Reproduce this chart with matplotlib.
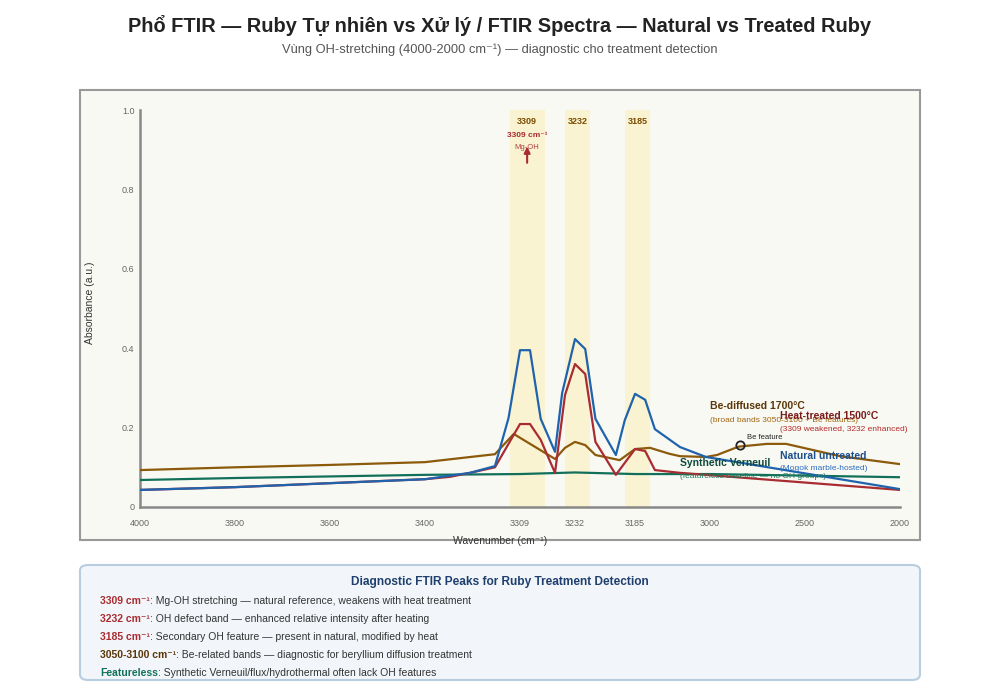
import numpy as np
import matplotlib
matplotlib.use('Agg')
import matplotlib.pyplot as plt
from matplotlib.patches import Rectangle, FancyBboxPatch

plt.rcParams['font.family'] = ['Liberation Sans', 'DejaVu Sans']

# wavenumber axis: break points (cm-1) and where they sit along the axis
axis_wn = [4000, 3800, 3600, 3400, 3309, 3232, 3185, 3000, 2500, 2000]
axis_pos = [0, 1, 2, 3, 4, 4.579, 5.211, 6, 7, 8]
tick_labels = [str(w) for w in axis_wn]

# spectra (absorbance, a.u.)
natural_wn = [4000, 3800, 3600, 3400, 3357, 3333, 3320, 3309, 3295, 3280, 3260, 3250,
              3232, 3224, 3216, 3200, 3193, 3185, 3160, 3136, 3074, 3010, 2000]
natural_abs = [0.043, 0.05, 0.06, 0.07, 0.086, 0.103, 0.224, 0.395, 0.395, 0.222, 0.139, 0.287,
               0.423, 0.398, 0.222, 0.131, 0.219, 0.285, 0.27, 0.196, 0.151, 0.126, 0.045]

heat_wn = [4000, 3800, 3600, 3400, 3376, 3357, 3333, 3309, 3295, 3280, 3260, 3246,
           3232, 3224, 3216, 3200, 3185, 3160, 3136, 3074, 2000]
heat_abs = [0.043, 0.05, 0.06, 0.07, 0.076, 0.086, 0.10, 0.209, 0.209, 0.169, 0.086, 0.282,
            0.36, 0.335, 0.164, 0.081, 0.146, 0.141, 0.093, 0.086, 0.043]

be_wn = [4000, 3800, 3600, 3400, 3333, 3315, 3260, 3246, 3232, 3224, 3216, 3197, 3185,
         3148, 3100, 3074, 3010, 2963, 2850, 2700, 2600, 2316, 2000]
be_abs = [0.093, 0.10, 0.106, 0.113, 0.133, 0.184, 0.121, 0.149, 0.164, 0.156, 0.131, 0.118, 0.146,
          0.149, 0.134, 0.128, 0.126, 0.131, 0.152, 0.159, 0.159, 0.128, 0.108]

syn_wn = [4000, 3800, 3600, 3400, 3309, 3232, 3185, 3000, 2500, 2000]
syn_abs = [0.068, 0.073, 0.077, 0.081, 0.083, 0.087, 0.083, 0.083, 0.079, 0.075]

be_feature = (2842, 0.157)

# diagnostic bands: label, low, high (cm-1)
bands = [('3309', 3274, 3319), ('3232', 3220, 3246), ('3185', 3148, 3193)]

notes = [
    ('3309 cm⁻¹', '#a82c30', ': Mg-OH stretching — natural reference, weakens with heat treatment'),
    ('3232 cm⁻¹', '#a82c30', ': OH defect band — enhanced relative intensity after heating'),
    ('3185 cm⁻¹', '#a82c30', ': Secondary OH feature — present in natural, modified by heat'),
    ('3050-3100 cm⁻¹', '#5a3608', ': Be-related bands — diagnostic for beryllium diffusion treatment'),
    ('Featureless', '#12705a', ': Synthetic Verneuil/flux/hydrothermal often lack OH features'),
]

c_nat = '#1f63ad'
c_heat = '#a82c30'
c_be = '#8b5a0b'
c_syn = '#12705a'


# piecewise axis mapping, increasing with wavenumber (axis gets inverted by xlim)
def fwd(w):
    return -np.interp(-np.asarray(w, dtype=float), -np.array(axis_wn), axis_pos)


def inv(q):
    return -np.interp(-np.asarray(q, dtype=float), axis_pos, -np.array(axis_wn))


fig = plt.figure(figsize=(10, 7), dpi=100)
fig.patch.set_facecolor('white')

# chart panel
fig.patches.append(Rectangle((0.08, 1 - 540 / 700), 0.84, 450 / 700, transform=fig.transFigure,
                             facecolor='#f9f9f4', edgecolor='#999999', lw=1.5, zorder=-1))

ax = fig.add_axes([0.14, 1 - 507 / 700, 0.76, 397 / 700])
ax.set_facecolor('none')
ax.set_xscale('function', functions=(fwd, inv))
ax.set_xlim(4000, 2000)
ax.set_ylim(0, 1.0)

for lbl, lo, hi in bands:
    ax.axvspan(lo, hi, color='#faf3d2', zorder=0, lw=0)
    xc = inv((fwd(lo) + fwd(hi)) / 2)
    ax.text(xc, 0.97, lbl, ha='center', va='center', fontsize=6.5, fontweight='bold', color='#7a4a00')

ax.plot(be_wn, be_abs, color=c_be, lw=1.6, zorder=3)
ax.plot(syn_wn, syn_abs, color=c_syn, lw=1.6, zorder=3)
ax.plot(heat_wn, heat_abs, color=c_heat, lw=1.6, zorder=3)
ax.plot(natural_wn, natural_abs, color=c_nat, lw=1.6, zorder=3)

ax.plot(*be_feature, 'o', ms=6, mfc='none', mec='#222222', mew=1.3, zorder=5)
ax.text(2805, 0.176, 'Be feature', fontsize=5.5, color='#222222', va='center')

# peak arrow for 3309
ax.annotate('', xy=(3299, 0.915), xytext=(3299, 0.86),
            arrowprops=dict(arrowstyle='-|>', color=c_heat, lw=1.5, mutation_scale=9))
ax.text(3299, 0.935, '3309 cm⁻¹', ha='center', va='center', fontsize=6, fontweight='bold', color='#a82c30')
ax.text(3299, 0.905, 'Mg-OH', ha='center', va='center', fontsize=5.5, color='#b04040')

# series labels
ax.text(3000, 0.254, 'Be-diffused 1700°C', fontsize=7.5, fontweight='bold', color='#5a3608', va='center')
ax.text(3000, 0.219, '(broad bands 3050-3100 + Be features)', fontsize=6, color='#a0650f', va='center')
ax.text(2632, 0.229, 'Heat-treated 1500°C', fontsize=7.5, fontweight='bold', color='#7a1a1a', va='center')
ax.text(2632, 0.194, '(3309 weakened, 3232 enhanced)', fontsize=6, color='#b52a2a', va='center')
ax.text(2632, 0.128, 'Natural untreated', fontsize=7.5, fontweight='bold', color='#1d4f8a', va='center')
ax.text(2632, 0.096, '(Mogok marble-hosted)', fontsize=6, color='#2b6cc0', va='center')
ax.text(3074, 0.111, 'Synthetic Verneuil', fontsize=7.5, fontweight='bold', color='#0d4a3a', va='center')
ax.text(3074, 0.076, '(featureless baseline — no OH groups)', fontsize=6, color='#1a7a5c', va='center')

ax.set_xticks(axis_wn)
ax.set_xticklabels(tick_labels)
ax.set_yticks([0, 0.2, 0.4, 0.6, 0.8, 1.0])
ax.set_yticklabels(['0', '0.2', '0.4', '0.6', '0.8', '1.0'])
ax.xaxis.set_minor_locator(matplotlib.ticker.NullLocator())
ax.tick_params(axis='both', length=0, labelsize=6.5, labelcolor='#666666')
ax.tick_params(axis='x', pad=9)
ax.tick_params(axis='y', pad=4)
for s in ['top', 'right']:
    ax.spines[s].set_visible(False)
for s in ['left', 'bottom']:
    ax.spines[s].set_color('#888888')
    ax.spines[s].set_linewidth(1.8)

fig.text(0.09, 1 - 303 / 700, 'Absorbance (a.u.)', rotation=90, ha='center', va='center',
         fontsize=7.5, color='#333333')
fig.text(0.5, 1 - 541 / 700, 'Wavenumber (cm⁻¹)', ha='center', va='center', fontsize=7.5, color='#333333')

# titles
fig.text(0.5, 1 - 25 / 700, 'Phổ FTIR — Ruby Tự nhiên vs Xử lý / FTIR Spectra — Natural vs Treated Ruby',
         ha='center', va='center', fontsize=14.4, fontweight='bold', color='#222222')
fig.text(0.5, 1 - 50 / 700, 'Vùng OH-stretching (4000-2000 cm⁻¹) — diagnostic cho treatment detection',
         ha='center', va='center', fontsize=9.3, color='#555555')

# diagnostic notes box
fig.patches.append(FancyBboxPatch((0.08, 1 - 680 / 700), 0.84, 115 / 700,
                                  boxstyle='round,pad=0,rounding_size=0.008', transform=fig.transFigure,
                                  facecolor='#f2f6fa', edgecolor='#b8cde0', lw=1.5, zorder=-1))
fig.text(0.5, 1 - 582 / 700, 'Diagnostic FTIR Peaks for Ruby Treatment Detection', ha='center', va='center',
         fontsize=8.6, fontweight='bold', color='#1f3f6e')

for i, (head, col, rest) in enumerate(notes):
    y = 1 - (601 + 18 * i) / 700
    t = fig.text(0.10, y, head, ha='left', va='center', fontsize=7.5, fontweight='bold', color=col)
    ax.annotate(rest, xy=(1, 0), xycoords=t, ha='left', va='bottom', fontsize=7.5, color='#333333',
                annotation_clip=False)

fig.savefig('out.png', dpi=100, facecolor='white')
